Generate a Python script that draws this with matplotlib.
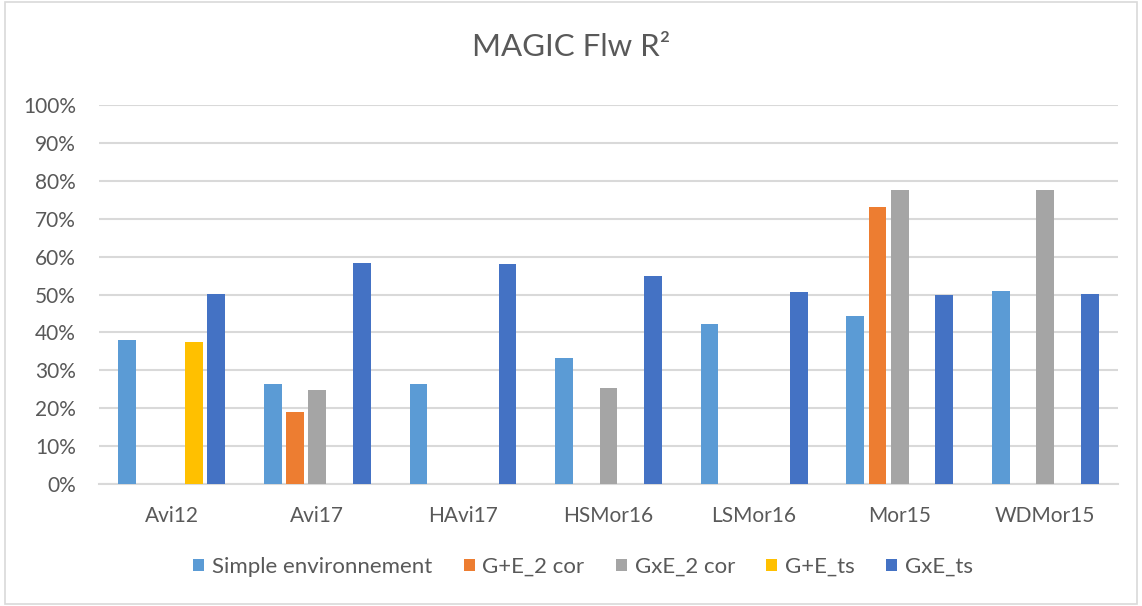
import numpy as np
import matplotlib
matplotlib.use("Agg")
import matplotlib.pyplot as plt
from matplotlib.patches import Rectangle
from matplotlib.ticker import PercentFormatter

plt.rcParams['font.family'] = ['Lato', 'DejaVu Sans']

# data (fraction of 1), nan = no bar
sites = ["Avi12", "Avi17", "HAvi17", "HSMor16", "LSMor16", "Mor15", "WDMor15"]
series = ["Simple environnement", "G+E_2 cor", "GxE_2 cor", "G+E_ts", "GxE_ts"]
simple_env = [0.381, 0.263, 0.263, 0.333, 0.421, 0.442, 0.508]
ge_2cor = [np.nan, 0.190, np.nan, np.nan, np.nan, 0.730, np.nan]
gxe_2cor = [np.nan, 0.249, np.nan, 0.253, np.nan, 0.775, 0.775]
ge_ts = [0.374, np.nan, np.nan, np.nan, np.nan, np.nan, np.nan]
gxe_ts = [0.502, 0.582, 0.580, 0.550, 0.506, 0.498, 0.501]
colors = ["#5B9BD5", "#ED7D31", "#A5A5A5", "#FFC000", "#4472C4"]

values = [simple_env, ge_2cor, gxe_2cor, ge_ts, gxe_ts]
txt = "#595959"

fig = plt.figure(figsize=(11.42, 6.06), dpi=100)
ax = fig.add_axes([0.0867, 0.2013, 0.8923, 0.6254])

x = np.arange(len(sites))
step = 0.153
w = 0.122
for i, (name, vals, c) in enumerate(zip(series, values, colors)):
    ax.bar(x + (i - 2) * step, vals, width=w, color=c, label=name, zorder=3)

ax.set_xlim(-0.5, len(sites) - 0.5)
ax.set_ylim(0, 1)
ax.set_yticks(np.arange(0, 1.01, 0.1))
ax.yaxis.set_major_formatter(PercentFormatter(1.0, decimals=0))
ax.set_xticks(x)
ax.set_xticklabels(sites)
ax.grid(axis='y', color="#D9D9D9", linewidth=1.5, zorder=0)
for s in ["top", "right", "left"]:
    ax.spines[s].set_visible(False)
ax.spines["bottom"].set_color("#D9D9D9")
ax.spines["bottom"].set_linewidth(1.5)
ax.tick_params(axis='both', length=0, labelsize=15, labelcolor=txt)
ax.tick_params(axis='y', pad=16.5)
ax.tick_params(axis='x', pad=16)

fig.text(0.5, 1 - 47 / 606, "MAGIC Flw R²", ha="center", va="center",
         fontsize=22.5, color=txt)

leg = fig.legend(loc="center", bbox_to_anchor=(0.5105, 1 - 567 / 606), ncol=5, frameon=False,
                 fontsize=16, handlelength=0.5, handleheight=0.5, handletextpad=0.35,
                 columnspacing=1.4, labelcolor=txt)

fig.patches.append(Rectangle((0.004, 0.003), 0.992, 0.994, transform=fig.transFigure,
                             fill=False, edgecolor="#D9D9D9", linewidth=1.2))

fig.savefig("out.png", dpi=100)
